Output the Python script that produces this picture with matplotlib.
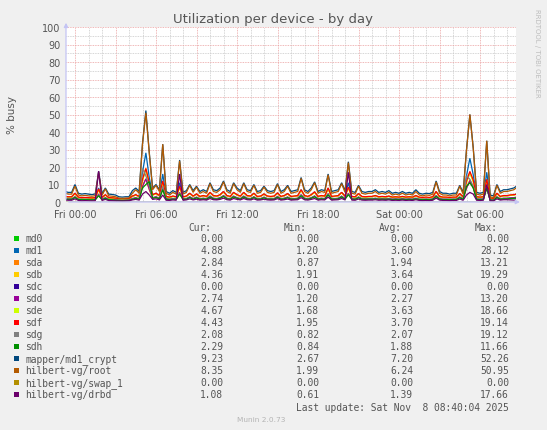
"""Munin disk utilization per device - by day."""
import matplotlib
matplotlib.use('Agg')
import matplotlib.pyplot as plt
from matplotlib.patches import Rectangle
import numpy as np

# sample times in hours relative to Fri 00:00 (15 min steps, Thu 23:15 .. Sat 08:45)
hours = np.arange(-0.75, 32.76, 0.25)

md0 = [0.0] * len(hours)
sdc = [0.0] * len(hours)
swap_1 = [0.0] * len(hours)

md1 = [3.0, 2.8, 2.8,
       5.0, 2.5, 2.3, 2.4, 2.3, 2.1, 2.3, 8.0, 2.4, 4.0, 2.3, 2.2, 2.0, 1.5, 1.2, 1.5,
       1.5, 3.2, 4.0, 3.0, 17.0, 28.1, 14.0, 4.0, 5.0, 3.5, 16.0, 3.0, 2.5, 3.2, 2.8, 11.0,
       2.8, 3.2, 5.0, 3.2, 4.5, 3.0, 3.5, 3.0, 5.5, 3.5, 3.2, 4.0, 6.0, 3.5, 3.0, 5.5,
       4.0, 3.2, 5.5, 3.5, 3.2, 5.0, 3.0, 3.2, 4.5, 3.2, 3.0, 3.2, 5.2, 3.0, 3.5, 4.8,
       3.0, 3.2, 3.5, 7.0, 3.5, 3.0, 4.0, 5.8, 3.0, 3.5, 3.2, 8.0, 3.0, 3.2, 3.5, 5.5,
       3.2, 11.0, 3.0, 2.8, 4.8, 3.0, 2.8, 3.0, 3.0, 3.5, 2.8, 3.0, 2.8, 3.2, 2.5, 2.8,
       2.5, 3.0, 2.5, 2.8, 2.5, 3.5, 2.5, 2.3, 2.5, 2.4, 2.8, 6.0, 3.0, 2.5, 2.5, 2.3,
       2.5, 2.5, 4.8, 2.8, 15.0, 25.0, 15.5, 2.8, 2.5, 2.8, 17.0, 2.0, 1.8, 5.0, 3.0, 3.5,
       3.5, 3.8, 4.0, 4.88]
sda = [1.7, 1.6, 1.6,
       2.7, 1.4, 1.3, 1.3, 1.3, 1.2, 1.3, 3.8, 1.3, 2.2, 1.3, 1.2, 1.0, 0.9, 0.87, 0.9,
       0.95, 1.7, 2.2, 1.6, 9.0, 13.21, 7.0, 2.2, 2.7, 1.9, 7.5, 1.6, 1.4, 1.7, 1.5, 4.8,
       1.5, 1.7, 2.7, 1.7, 2.5, 1.6, 1.9, 1.6, 3.0, 1.9, 1.7, 2.2, 3.3, 1.9, 1.6, 3.0,
       2.2, 1.7, 3.0, 1.9, 1.7, 2.7, 1.6, 1.7, 2.5, 1.7, 1.6, 1.7, 2.8, 1.6, 1.9, 2.6,
       1.6, 1.7, 1.9, 3.8, 1.9, 1.6, 2.2, 3.1, 1.6, 1.9, 1.7, 4.3, 1.6, 1.7, 1.9, 3.0,
       1.7, 4.4, 1.6, 1.5, 2.6, 1.6, 1.5, 1.6, 1.6, 1.9, 1.5, 1.6, 1.5, 1.7, 1.4, 1.5,
       1.4, 1.6, 1.4, 1.5, 1.4, 1.9, 1.4, 1.3, 1.4, 1.3, 1.5, 3.3, 1.6, 1.4, 1.4, 1.3,
       1.4, 1.4, 2.6, 1.5, 8.0, 12.5, 8.0, 1.5, 1.4, 1.5, 8.5, 1.1, 1.0, 2.7, 1.6, 1.9,
       1.9, 2.1, 2.4, 2.84]
sdb = [3.1, 2.9, 3.0,
       4.8, 2.7, 2.5, 2.5, 2.4, 2.3, 2.4, 7.2, 2.5, 4.0, 2.4, 2.3, 2.1, 1.95, 1.91, 2.0,
       2.0, 3.3, 4.0, 3.1, 12.5, 19.29, 10.5, 4.0, 4.8, 3.6, 11.5, 3.1, 2.7, 3.3, 2.9, 8.5,
       2.9, 3.3, 4.8, 3.3, 4.5, 3.1, 3.6, 3.1, 5.3, 3.6, 3.3, 4.0, 5.8, 3.6, 3.1, 5.3,
       4.0, 3.3, 5.3, 3.6, 3.3, 4.8, 3.1, 3.3, 4.5, 3.3, 3.1, 3.3, 5.0, 3.1, 3.6, 4.6,
       3.1, 3.3, 3.6, 6.8, 3.6, 3.1, 4.0, 5.6, 3.1, 3.6, 3.3, 7.6, 3.1, 3.3, 3.6, 5.3,
       3.3, 8.2, 3.1, 2.9, 4.6, 3.1, 2.9, 3.1, 3.1, 3.6, 2.9, 3.1, 2.9, 3.3, 2.7, 2.9,
       2.7, 3.1, 2.7, 2.9, 2.7, 3.6, 2.7, 2.5, 2.7, 2.5, 2.9, 5.8, 3.1, 2.7, 2.7, 2.5,
       2.7, 2.7, 4.6, 2.9, 11.5, 17.0, 12.0, 2.9, 2.7, 2.9, 12.5, 2.2, 2.0, 4.8, 3.1, 3.6,
       3.6, 3.9, 4.1, 4.36]
sdd = [2.0, 1.8, 1.8,
       3.0, 1.6, 1.5, 1.5, 1.5, 1.4, 1.5, 4.5, 1.5, 2.5, 1.5, 1.4, 1.3, 1.2, 1.2, 1.2,
       1.3, 2.0, 2.5, 1.9, 9.0, 13.2, 7.5, 2.5, 3.0, 2.2, 8.0, 1.9, 1.6, 2.0, 1.8, 5.5,
       1.8, 2.0, 3.0, 2.0, 2.8, 1.9, 2.2, 1.9, 3.4, 2.2, 2.0, 2.5, 3.7, 2.2, 1.9, 3.4,
       2.5, 2.0, 3.4, 2.2, 2.0, 3.0, 1.9, 2.0, 2.8, 2.0, 1.9, 2.0, 3.2, 1.9, 2.2, 2.9,
       1.9, 2.0, 2.2, 4.2, 2.2, 1.9, 2.5, 3.5, 1.9, 2.2, 2.0, 4.8, 1.9, 2.0, 2.2, 3.4,
       2.0, 5.0, 1.9, 1.8, 2.9, 1.9, 1.8, 1.9, 1.9, 2.2, 1.8, 1.9, 1.8, 2.0, 1.6, 1.8,
       1.6, 1.9, 1.6, 1.8, 1.6, 2.2, 1.6, 1.5, 1.6, 1.5, 1.8, 3.7, 1.9, 1.6, 1.6, 1.5,
       1.6, 1.6, 2.9, 1.8, 8.0, 12.0, 8.5, 1.8, 1.6, 1.8, 8.0, 1.3, 1.2, 3.0, 1.9, 2.2,
       2.2, 2.4, 2.5, 2.74]
sde = [3.0, 2.9, 2.9,
       4.7, 2.6, 2.4, 2.5, 2.4, 2.2, 2.4, 7.0, 2.5, 3.9, 2.4, 2.3, 2.0, 1.8, 1.7, 1.8,
       1.9, 3.2, 3.9, 3.0, 12.0, 18.66, 10.0, 3.9, 4.7, 3.5, 11.0, 3.0, 2.6, 3.2, 2.8, 8.2,
       2.8, 3.2, 4.7, 3.2, 4.4, 3.0, 3.5, 3.0, 5.2, 3.5, 3.2, 3.9, 5.7, 3.5, 3.0, 5.2,
       3.9, 3.2, 5.2, 3.5, 3.2, 4.7, 3.0, 3.2, 4.4, 3.2, 3.0, 3.2, 4.9, 3.0, 3.5, 4.5,
       3.0, 3.2, 3.5, 6.6, 3.5, 3.0, 3.9, 5.5, 3.0, 3.5, 3.2, 7.4, 3.0, 3.2, 3.5, 5.2,
       3.2, 8.0, 3.0, 2.8, 4.5, 3.0, 2.8, 3.0, 3.0, 3.5, 2.8, 3.0, 2.8, 3.2, 2.6, 2.8,
       2.6, 3.0, 2.6, 2.8, 2.6, 3.5, 2.6, 2.4, 2.6, 2.4, 2.8, 5.7, 3.0, 2.6, 2.6, 2.4,
       2.6, 2.6, 4.5, 2.8, 11.0, 16.5, 11.5, 2.8, 2.6, 2.8, 12.0, 2.1, 1.9, 4.7, 3.0, 3.5,
       3.5, 3.8, 4.0, 4.67]
sdf = [3.2, 3.0, 3.0,
       5.0, 2.8, 2.5, 2.6, 2.5, 2.3, 2.5, 7.5, 2.6, 4.2, 2.5, 2.4, 2.2, 2.0, 1.95, 2.0,
       2.0, 3.4, 4.2, 3.2, 13.0, 19.14, 11.0, 4.2, 5.0, 3.7, 12.0, 3.2, 2.8, 3.4, 3.0, 9.0,
       3.0, 3.4, 5.0, 3.4, 4.6, 3.2, 3.7, 3.2, 5.5, 3.7, 3.4, 4.2, 6.0, 3.7, 3.2, 5.5,
       4.2, 3.4, 5.5, 3.7, 3.4, 5.0, 3.2, 3.4, 4.6, 3.4, 3.2, 3.4, 5.2, 3.2, 3.7, 4.8,
       3.2, 3.4, 3.7, 7.0, 3.7, 3.2, 4.2, 5.8, 3.2, 3.7, 3.4, 8.0, 3.2, 3.4, 3.7, 5.5,
       3.4, 8.5, 3.2, 3.0, 4.8, 3.2, 3.0, 3.2, 3.2, 3.7, 3.0, 3.2, 3.0, 3.4, 2.8, 3.0,
       2.8, 3.2, 2.8, 3.0, 2.8, 3.7, 2.8, 2.6, 2.8, 2.6, 3.0, 6.0, 3.2, 2.8, 2.8, 2.6,
       2.8, 2.8, 4.8, 3.0, 12.0, 17.5, 12.5, 3.0, 2.8, 3.0, 13.0, 2.3, 2.1, 5.0, 3.2, 3.7,
       3.7, 4.0, 4.2, 4.43]
sdg = [1.8, 1.7, 1.7,
       2.8, 1.5, 1.4, 1.4, 1.4, 1.3, 1.4, 4.0, 1.4, 2.3, 1.4, 1.3, 1.0, 0.9, 0.82, 0.9,
       1.0, 1.8, 2.3, 1.7, 19.12, 15.0, 9.0, 2.3, 2.8, 2.0, 9.0, 1.7, 1.5, 1.8, 1.6, 5.0,
       1.6, 1.8, 2.8, 1.8, 2.6, 1.7, 2.0, 1.7, 3.1, 2.0, 1.8, 2.3, 3.4, 2.0, 1.7, 3.1,
       2.3, 1.8, 3.1, 2.0, 1.8, 2.8, 1.7, 1.8, 2.6, 1.8, 1.7, 1.8, 2.9, 1.7, 2.0, 2.7,
       1.7, 1.8, 2.0, 3.9, 2.0, 1.7, 2.3, 3.2, 1.7, 2.0, 1.8, 4.4, 1.7, 1.8, 2.0, 3.1,
       1.8, 4.6, 1.7, 1.6, 2.7, 1.7, 1.6, 1.7, 1.7, 2.0, 1.6, 1.7, 1.6, 1.8, 1.5, 1.6,
       1.5, 1.7, 1.5, 1.6, 1.5, 2.0, 1.5, 1.4, 1.5, 1.4, 1.6, 3.4, 1.7, 1.5, 1.5, 1.4,
       1.5, 1.5, 2.7, 1.6, 15.0, 13.0, 9.0, 1.6, 1.5, 1.6, 9.0, 1.2, 1.1, 2.8, 1.7, 2.0,
       2.0, 2.0, 2.1, 2.08]
sdh = [1.6, 1.5, 1.5,
       2.6, 1.4, 1.3, 1.3, 1.3, 1.2, 1.3, 3.6, 1.3, 2.1, 1.3, 1.2, 1.0, 0.9, 0.84, 0.9,
       0.95, 1.6, 2.1, 1.6, 8.0, 10.0, 11.66, 2.1, 2.6, 1.8, 7.0, 1.6, 1.4, 1.6, 1.5, 4.6,
       1.5, 1.6, 2.6, 1.6, 2.4, 1.6, 1.8, 1.6, 2.9, 1.8, 1.6, 2.1, 3.2, 1.8, 1.6, 2.9,
       2.1, 1.6, 2.9, 1.8, 1.6, 2.6, 1.6, 1.6, 2.4, 1.6, 1.6, 1.6, 2.7, 1.6, 1.8, 2.5,
       1.6, 1.6, 1.8, 3.6, 1.8, 1.6, 2.1, 3.0, 1.6, 1.8, 1.6, 4.1, 1.6, 1.6, 1.8, 2.9,
       1.6, 4.2, 1.6, 1.5, 2.5, 1.6, 1.5, 1.6, 1.6, 1.8, 1.5, 1.6, 1.5, 1.6, 1.4, 1.5,
       1.4, 1.6, 1.4, 1.5, 1.4, 1.8, 1.4, 1.3, 1.4, 1.3, 1.5, 3.2, 1.6, 1.4, 1.4, 1.3,
       1.4, 1.4, 2.5, 1.5, 9.0, 11.0, 8.0, 1.5, 1.4, 1.5, 8.0, 1.1, 1.0, 2.6, 1.6, 1.8,
       1.8, 2.0, 2.1, 2.29]
md1_crypt = [6.0, 5.5, 5.5,
             10.0, 5.0, 4.5, 4.8, 4.5, 4.2, 4.6, 17.5, 4.8, 8.0, 4.5, 4.3, 4.0, 3.0, 2.8, 3.0,
             3.0, 6.5, 8.0, 6.0, 33.5, 52.26, 28.5, 8.0, 10.0, 7.0, 33.0, 6.0, 5.0, 6.5, 5.5, 24.0,
             5.5, 6.5, 10.0, 6.5, 9.0, 6.0, 7.0, 6.0, 11.0, 7.0, 6.5, 8.0, 12.0, 7.0, 6.0, 11.0,
             8.0, 6.5, 11.0, 7.0, 6.5, 10.0, 6.0, 6.5, 9.0, 6.5, 6.0, 6.5, 10.5, 6.0, 7.0, 9.5,
             6.0, 6.5, 7.0, 14.0, 7.0, 6.0, 8.0, 11.5, 6.0, 7.0, 6.5, 16.0, 6.0, 6.5, 7.0, 11.0,
             6.5, 23.0, 6.0, 5.5, 9.5, 6.0, 5.5, 6.0, 6.0, 7.0, 5.5, 6.0, 5.5, 6.5, 5.0, 5.5,
             5.0, 6.0, 5.0, 5.5, 5.0, 7.0, 5.0, 4.5, 5.0, 4.8, 5.5, 12.0, 6.0, 5.0, 5.0, 4.5,
             5.0, 5.0, 9.5, 5.5, 30.0, 50.0, 31.0, 5.5, 5.0, 5.5, 35.0, 4.0, 3.5, 10.0, 6.0, 7.0,
             7.0, 7.5, 8.0, 9.23]
root = [5.0, 4.5, 4.5,
        9.0, 4.0, 3.5, 3.8, 3.5, 3.3, 3.6, 17.0, 3.8, 7.5, 3.5, 3.3, 3.0, 2.2, 2.0, 2.2,
        2.3, 5.0, 7.0, 5.0, 33.0, 50.95, 28.0, 7.0, 9.5, 6.0, 33.0, 5.0, 4.0, 5.5, 4.5, 23.5,
        4.5, 5.5, 9.5, 5.5, 8.5, 5.0, 6.0, 5.0, 10.5, 6.0, 5.5, 7.0, 11.5, 6.0, 5.0, 10.5,
        7.0, 5.5, 10.5, 6.0, 5.5, 9.5, 5.0, 5.5, 8.5, 5.5, 5.0, 5.5, 10.0, 5.0, 6.0, 9.0,
        5.0, 5.5, 6.0, 13.5, 6.0, 5.0, 7.0, 11.0, 5.0, 6.0, 5.5, 15.5, 5.0, 5.5, 6.0, 10.5,
        5.5, 22.5, 5.0, 4.5, 9.0, 5.0, 4.5, 5.0, 5.0, 6.0, 4.5, 5.0, 4.5, 5.5, 4.0, 4.5,
        4.0, 5.0, 4.0, 4.5, 4.0, 6.0, 4.0, 3.5, 4.0, 3.8, 4.5, 11.5, 5.0, 4.0, 4.0, 3.5,
        4.0, 4.0, 9.0, 4.5, 29.5, 50.0, 30.5, 4.5, 4.0, 4.5, 35.0, 3.0, 2.5, 9.5, 5.0, 6.0,
        6.0, 6.5, 7.0, 8.35]
drbd = [1.2, 1.0, 1.0,
        1.8, 0.9, 0.7, 0.8, 0.7, 0.65, 0.7, 17.66, 0.9, 1.5, 0.8, 0.7, 0.65, 0.61, 0.62, 0.65,
        0.7, 1.2, 1.5, 1.1, 4.5, 6.0, 4.0, 1.5, 1.8, 1.2, 4.0, 1.0, 0.9, 1.2, 1.0, 16.0,
        1.0, 1.2, 1.8, 1.2, 1.6, 1.1, 1.3, 1.1, 2.0, 1.3, 1.2, 1.5, 2.2, 1.3, 1.1, 2.0,
        1.5, 1.2, 2.0, 1.3, 1.2, 1.8, 1.1, 1.2, 1.6, 1.2, 1.1, 1.2, 1.9, 1.1, 1.3, 1.7,
        1.1, 1.2, 1.3, 2.5, 1.3, 1.1, 1.5, 2.0, 1.1, 1.3, 1.2, 2.8, 1.1, 1.2, 1.3, 2.0,
        1.2, 17.0, 1.1, 1.0, 1.7, 1.1, 1.0, 1.1, 1.1, 1.3, 1.0, 1.1, 1.0, 1.2, 0.9, 1.0,
        0.9, 1.1, 0.9, 1.0, 0.9, 1.3, 0.9, 0.8, 0.9, 0.8, 1.0, 2.2, 1.1, 0.9, 0.9, 0.8,
        0.9, 0.9, 1.7, 1.0, 4.0, 5.5, 4.5, 1.0, 0.9, 1.0, 10.0, 0.7, 0.65, 1.8, 1.1, 1.3,
        1.3, 1.2, 1.1, 1.08]

names = ['md0', 'md1', 'sda', 'sdb', 'sdc', 'sdd', 'sde', 'sdf', 'sdg', 'sdh',
         'mapper/md1_crypt', 'hilbert-vg/root', 'hilbert-vg/swap_1', 'hilbert-vg/drbd']
series = [md0, md1, sda, sdb, sdc, sdd, sde, sdf, sdg, sdh, md1_crypt, root, swap_1, drbd]
colors = ['#00CC00', '#0066B3', '#FF8000', '#FFCC00', '#330099', '#990099', '#CCFF00',
          '#FF0000', '#808080', '#008F00', '#00487D', '#B35A00', '#B38F00', '#6B006B']
cur = ['0.00', '4.88', '2.84', '4.36', '0.00', '2.74', '4.67', '4.43', '2.08', '2.29', '9.23', '8.35', '0.00', '1.08']
mins = ['0.00', '1.20', '0.87', '1.91', '0.00', '1.20', '1.68', '1.95', '0.82', '0.84', '2.67', '1.99', '0.00', '0.61']
avgs = ['0.00', '3.60', '1.94', '3.64', '0.00', '2.27', '3.63', '3.70', '2.07', '1.88', '7.20', '6.24', '0.00', '1.39']
maxs = ['0.00', '28.12', '13.21', '19.29', '0.00', '13.20', '18.66', '19.14', '19.12', '11.66', '52.26', '50.95', '0.00', '17.66']

tick_hours = [0, 6, 12, 18, 24, 30]
tick_names = ['Fri 00:00', 'Fri 06:00', 'Fri 12:00', 'Fri 18:00', 'Sat 00:00', 'Sat 06:00']

W, H = 547, 431
txt = '#555555'


def fx(px):
    return px / W


def fy(py):
    return 1 - py / H


fig = plt.figure(figsize=(W / 100, H / 100), dpi=100, facecolor='#F0F0F0')
ax = fig.add_axes([fx(66), fy(203), 450 / W, 175 / H])
ax.set_facecolor('white')

for vals, c in zip(series, colors):
    ax.plot(hours, vals, color=c, lw=0.9, solid_joinstyle='miter')

ax.set_xlim(-2 / 3, 32 + 2 / 3)
ax.set_ylim(0, 100)
ax.set_xticks(np.arange(0, 33, 3))
ax.set_xticklabels([tick_names[tick_hours.index(h)] if h in tick_hours else ''
                    for h in range(0, 33, 3)])
ax.set_xticks(np.arange(0, 33, 1), minor=True)
ax.set_yticks(np.arange(0, 101, 10))
ax.set_yticks(np.arange(0, 101, 5), minor=True)
ax.grid(which='minor', color='#C8C8C8', linestyle=(0, (1, 1)), lw=0.6)
ax.grid(which='major', color='#EBA0A0', linestyle=(0, (1, 1)), lw=0.6)
ax.set_axisbelow(True)
ax.tick_params(which='both', length=0, labelsize=7, labelcolor=txt)
ax.tick_params(axis='x', pad=5)
ax.tick_params(axis='y', pad=4)
for s in ax.spines.values():
    s.set_visible(False)

axis_col = '#C4C4F4'
ax.annotate('', xy=(0, 1.04), xytext=(0, 0), xycoords='axes fraction',
            arrowprops=dict(arrowstyle='-|>', color=axis_col, lw=0.9, mutation_scale=6))
ax.annotate('', xy=(1.015, 0), xytext=(0, 0), xycoords='axes fraction',
            arrowprops=dict(arrowstyle='-|>', color=axis_col, lw=0.9, mutation_scale=6))

fig.text(fx(273), fy(19.5), 'Utilization per device - by day', ha='center', va='center',
         fontsize=9.5, color=txt)
fig.text(fx(12), fy(115), '% busy', rotation=90, ha='center', va='center',
         fontsize=7.5, color=txt)
fig.text(fx(537.5), fy(53), 'RRDTOOL / TOBI OETIKER', rotation=270, ha='center', va='center',
         fontsize=5, color='#BDBDBD')

mono = dict(family='DejaVu Sans Mono', fontsize=6.9, color=txt, va='center')
fig.text(fx(211.7), fy(228.3), 'Cur:', ha='right', **mono)
fig.text(fx(306.7), fy(228.3), 'Min:', ha='right', **mono)
fig.text(fx(401.7), fy(228.3), 'Avg:', ha='right', **mono)
fig.text(fx(497.3), fy(228.3), 'Max:', ha='right', **mono)
for i, name in enumerate(names):
    y = 239.3 + 12 * i
    fig.add_artist(Rectangle((fx(13.5), fy(y + 2.7)), 5.3 / W, 5.3 / H,
                             transform=fig.transFigure, color=colors[i], lw=0))
    fig.text(fx(25), fy(y), name, ha='left', **mono)
    fig.text(fx(223.3), fy(y), cur[i], ha='right', **mono)
    fig.text(fx(319), fy(y), mins[i], ha='right', **mono)
    fig.text(fx(413.3), fy(y), avgs[i], ha='right', **mono)
    fig.text(fx(509), fy(y), maxs[i], ha='right', **mono)

fig.text(fx(509), fy(407.7), 'Last update: Sat Nov  8 08:40:04 2025', ha='right', **mono)
fig.text(fx(260.7), fy(419.7), 'Munin 2.0.73', ha='center', va='center',
         fontsize=5.3, color='#B4B4B4')

fig.savefig('out.png', dpi=100, facecolor=fig.get_facecolor())
